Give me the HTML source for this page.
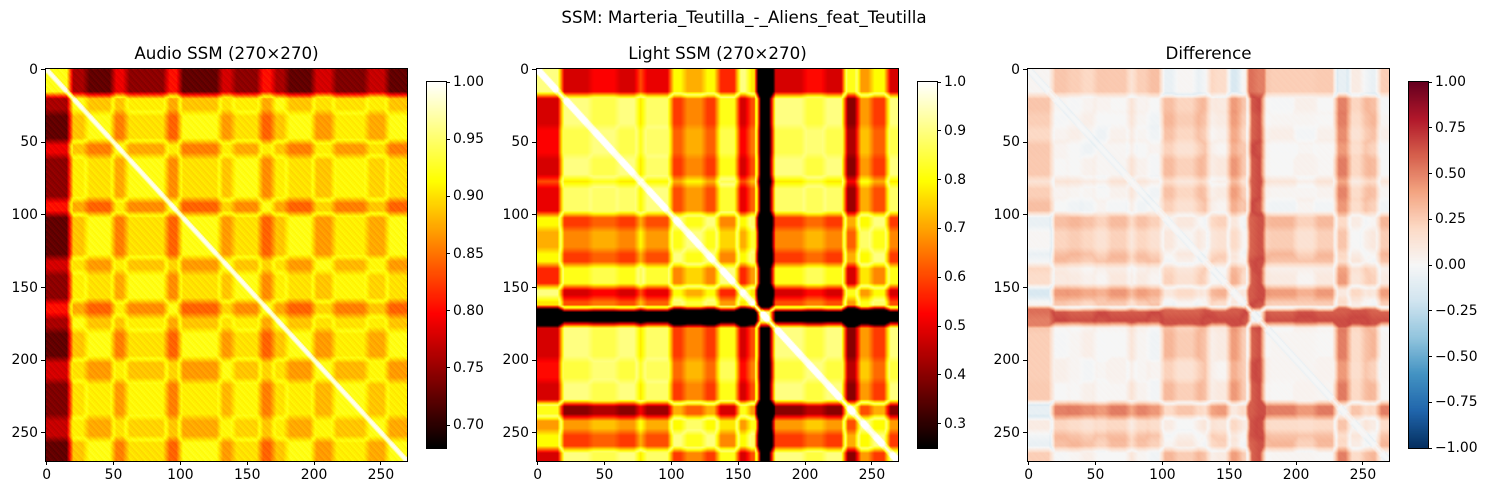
<!DOCTYPE html>
<html><head><meta charset="utf-8"><style>
body{margin:0;background:#fff;width:1489px;height:495px;position:relative;overflow:hidden;font-family:"DejaVu Sans","Liberation Sans",sans-serif;color:#000}
canvas{position:absolute}
.t{position:absolute;font-size:13.9px;line-height:16px;white-space:nowrap}
.ti{position:absolute;font-size:16.7px;line-height:20px;white-space:nowrap;transform:translateX(-50%)}
.tk{position:absolute;background:#000}
</style></head><body>
<div class="ti" style="left:744px;top:7px">SSM: Marteria_Teutilla_-_Aliens_feat_Teutilla</div>
<div id="root"></div>
<script>
// Segment data: [start, end, feature]
const lightSegs=[[0,18,0.4],[18,40,0.0],[40,60,0.04],[60,75,0.0],[75,80,0.12],[80,100,0.02],[100,110,0.3],[110,125,0.22],[125,135,0.3],[135,150,0.08],[150,158,0.4],[158,165,0.28],[165,176,-0.62],[176,200,0.0],[200,215,0.05],[215,230,0.0],[230,240,0.48],[240,250,0.2],[250,262,0.3],[262,270,0.0]];
const audioSegs=[[0,18,0.3],[18,30,0.05],[30,50,0.0],[50,60,0.1],[60,90,0.03],[90,100,0.12],[100,130,0.0],[130,140,0.08],[140,160,0.03],[160,170,0.12],[170,180,0.05],[180,200,0.0],[200,215,0.08],[215,240,0.02],[240,255,0.07],[255,270,0.0]];
const audioRange=[0.68,1.0], lightRange=[0.25,1.0], diffRange=[-1,1];
const audioTicks=[0.70,0.75,0.80,0.85,0.90,0.95,1.00];
const lightTicks=[0.3,0.4,0.5,0.6,0.7,0.8,0.9,1.0];
const diffTicks=[-1.00,-0.75,-0.50,-0.25,0.00,0.25,0.50,0.75,1.00];
const axisTicks=[0,50,100,150,200,250];
const N=270;

function feat(segs){const f=new Array(N).fill(0);segs.forEach(s=>{for(let i=s[0];i<s[1];i++)f[i]=s[2];});
 const g=f.slice();for(let i=0;i<N;i++){let a=0,c=0;for(let k=-2;k<=2;k++){const j=i+k;if(j>=0&&j<N){a+=f[j];c++;}}g[i]=a/c;}return g;}
const lf=feat(lightSegs), af=feat(audioSegs);
function clamp(x){return Math.max(0,Math.min(1,x));}
function lightSim(i,j){const d=Math.abs(i-j);return Math.max(0.25,1-Math.abs(lf[i]-lf[j])*1.05-(d<4?0:0.1));}
function audioSim(i,j){const d=Math.abs(i-j);return Math.max(0.68,1-Math.abs(af[i]-af[j])*0.65-(d<3?0:0.07)-0.02*((i*7+j*13)%5)/4);}
function hot(t){t=clamp(t);return [clamp(t/0.365)*255,clamp((t-0.365)/0.365)*255,clamp((t-0.73)/0.27)*255];}
const rdbu=[[5,48,97],[33,102,172],[67,147,195],[146,197,222],[209,229,240],[247,247,247],[253,219,199],[244,165,130],[214,96,77],[178,24,43],[103,0,31]];
function rb(t){t=clamp(t)*(rdbu.length-1);const i=Math.min(rdbu.length-2,Math.floor(t)),f=t-i;return rdbu[i].map((v,k)=>v+(rdbu[i+1][k]-v)*f);}
const root=document.getElementById('root');
function el(tag,cls,style,txt){const e=document.createElement(tag);if(cls)e.className=cls;e.style.cssText=style;if(txt!==undefined)e.textContent=txt;root.appendChild(e);return e;}

const panels=[
 {name:'audio',title:'Audio SSM (270×270)',x:46,cmap:hot,range:audioRange,ticks:audioTicks,fmt:v=>v.toFixed(2),fn:audioSim,cb:427},
 {name:'light',title:'Light SSM (270×270)',x:537,cmap:hot,range:lightRange,ticks:lightTicks,fmt:v=>v.toFixed(1),fn:lightSim,cb:918},
 {name:'difference',title:'Difference',x:1028,cmap:rb,range:diffRange,ticks:diffTicks,fmt:v=>(v<0?'\u2212':'')+Math.abs(v).toFixed(2),fn:(i,j)=>audioSim(i,j)-lightSim(i,j),cb:1409}];
const Y0=69,W=361,H=392,CBT=82,CBH=366,CBW=19;
panels.forEach(p=>{
 const c=el('canvas','',`left:${p.x}px;top:${Y0}px;width:${W}px;height:${H}px`);
 
 
 c.width=N;c.height=N;const ctx=c.getContext('2d');const im=ctx.createImageData(N,N);
 for(let i=0;i<N;i++)for(let j=0;j<N;j++){const v=p.fn(i,j);const col=p.cmap((v-p.range[0])/(p.range[1]-p.range[0]));const o=(i*N+j)*4;im.data[o]=col[0];im.data[o+1]=col[1];im.data[o+2]=col[2];im.data[o+3]=255;}
 ctx.putImageData(im,0,0);
 const fr=el('div','',`position:absolute;left:${p.x-1}px;top:${Y0-1}px;width:${W}px;height:${H}px;border:1px solid #000`);
 
 
 const t=el('div','ti',`left:${p.x+W/2}px;top:43px`,p.title);
 
 
 axisTicks.forEach(v=>{
  const xx=p.x+(v+0.5)*W/N, yy=Y0+(v+0.5)*H/N;
  el('div','tk',`left:${xx-0.5}px;top:${Y0+H}px;width:1px;height:4px`);
  const xl=el('div','t',`left:${xx}px;top:${Y0+H+6}px;transform:translateX(-50%)`,String(v));
  
  
  el('div','tk',`left:${p.x-5}px;top:${yy-0.5}px;width:4px;height:1px`);
  const yl=el('div','t',`right:${1489-p.x+8}px;top:${yy-8}px`,String(v));
  
  
 });
 const cb=el('canvas','',`left:${p.cb}px;top:${CBT}px;width:${CBW}px;height:${CBH}px;outline:1px solid #000`);
 
 
 cb.width=1;cb.height=CBH;const cc=cb.getContext('2d');
 for(let y=0;y<CBH;y++){const col=p.cmap(1-y/(CBH-1));cc.fillStyle=`rgb(${col[0]|0},${col[1]|0},${col[2]|0})`;cc.fillRect(0,y,1,1);}
 p.ticks.forEach(v=>{
  const yy=CBT+CBH*(1-(v-p.range[0])/(p.range[1]-p.range[0]));
  el('div','tk',`left:${p.cb+CBW}px;top:${yy-0.5}px;width:4px;height:1px`);
  const l=el('div','t',`left:${p.cb+CBW+7}px;top:${yy-8}px`,p.fmt(v));
  
  
 });
});
</script>
</body></html>
